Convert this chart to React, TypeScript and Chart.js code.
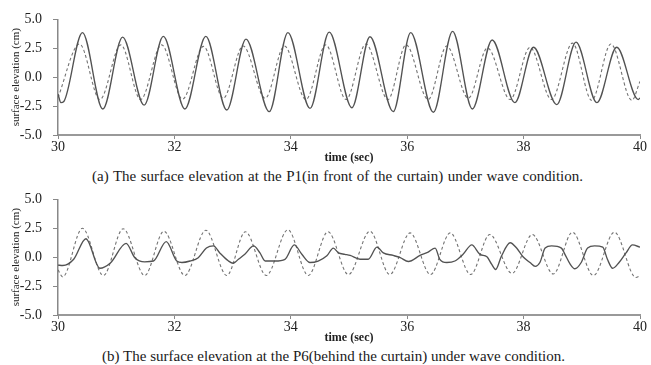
import React, { useEffect, useRef } from "react";
import { Chart, registerables } from "chart.js";

Chart.register(...registerables);

const FONT = "'Liberation Serif', 'Times New Roman', serif";

const xTickValues = [30, 32, 34, 36, 38, 40];
const yTickValues = [-5, -2.5, 0, 2.5, 5];

// (a) P1, in front of the curtain — measured (solid)
const p1SolidTime = [
  30.0, 30.05, 30.1, 30.42, 30.77, 31.11, 31.48, 31.81, 32.18, 32.54, 32.9, 33.23,
  33.63, 33.95, 34.33, 34.66, 35.05, 35.36, 35.76, 36.06, 36.45, 36.78, 37.12,
  37.46, 37.85, 38.17, 38.57, 38.9, 39.26, 39.6, 39.97, 40.0,
];
const p1SolidValue = [
  -1.45, -2.2, -2.1, 3.86, -2.75, 3.47, -2.42, 3.53, -2.75, 3.53, -2.84, 3.3,
  -2.98, 3.86, -2.7, 3.9, -2.64, 3.5, -2.98, 3.86, -3.03, 3.97, -2.75,
  3.22, -2.2, 2.59, -2.37, 3.03, -2.2, 2.59, -1.93, -1.8,
];

// (a) P1 — incident wave (dashed)
const p1DashedTime = [
  30.0, 30.37, 30.72, 31.08, 31.42, 31.78, 32.14, 32.5, 32.84, 33.18, 33.56, 33.89,
  34.26, 34.6, 34.95, 35.29, 35.67, 35.98, 36.36, 36.68, 37.05, 37.38, 37.77,
  38.11, 38.48, 38.84, 39.17, 39.5, 39.86, 40.0,
];
const p1DashedValue = [
  -1.75, 2.87, -1.93, 2.8, -1.93, 2.8, -1.9, 2.67, -1.82, 2.7, -1.82, 2.7,
  -1.93, 2.8, -1.93, 2.87, -1.93, 2.8, -1.93, 2.7, -1.82, 2.53, -1.93,
  2.59, -1.93, 2.95, -2.0, 2.87, -2.0, -0.36,
];

// (b) P6, behind the curtain — measured (solid)
const p6SolidTime = [
  30.0, 30.08, 30.27, 30.48, 30.72, 30.9, 31.17, 31.32, 31.49, 31.64, 31.86, 32.04,
  32.13, 32.27, 32.41, 32.55, 32.67, 32.78, 32.93, 33.01, 33.1, 33.21, 33.36,
  33.47, 33.56, 33.73, 33.9, 34.06, 34.19, 34.33, 34.47, 34.62, 34.73, 34.82,
  34.93, 35.02, 35.19, 35.33, 35.48, 35.59, 35.76, 35.88, 36.02, 36.22, 36.36,
  36.48, 36.56, 36.68, 36.82, 36.96, 37.11, 37.25, 37.37, 37.45, 37.52, 37.62,
  37.77, 37.88, 37.99, 38.11, 38.2, 38.28, 38.37, 38.48, 38.65, 38.71, 38.8,
  38.88, 38.99, 39.1, 39.22, 39.36, 39.44, 39.53, 39.64, 39.76, 39.87, 40.0,
];
const p6SolidValue = [
  -0.68, -0.72, -0.18, 1.6, -0.96, -0.5, 1.2, -0.04, -0.4, -0.33, 1.35, -0.33,
  -0.46, -0.33, -0.04, 0.79, 0.98, 0.37, -0.33, -0.52, -0.18, 0.25, 0.98,
  0.37, -0.33, -0.33, -0.18, 1.06, 0.25, -0.46, -0.33, 0.12, 0.79, 0.37,
  0.25, 0.15, -0.18, -0.18, 0.87, 0.37, 0.15, -0.04, -0.37, 0.15, 0.44,
  0.79, -0.18, -0.46, -0.33, 0.25, 1.06, 0.25, 0.04, -0.6, -1.06, 0.1,
  1.25, 0.79, 0.04, -0.46, -0.79, -0.46, 0.79, 0.98, 0.79, 0.25, -0.6,
  -1.0, -0.46, 0.79, 0.98, 0.87, -0.18, -0.96, -0.46, 0.37, 1.06, 0.87,
];

// (b) P6 — incident wave (dashed)
const p6DashedTime = [
  30.0, 30.08, 30.42, 30.78, 31.12, 31.49, 31.82, 32.18, 32.54, 32.9, 33.22, 33.58,
  33.95, 34.3, 34.64, 34.99, 35.36, 35.7, 36.05, 36.4, 36.74, 37.09, 37.42,
  37.8, 38.15, 38.51, 38.84, 39.2, 39.56, 39.93, 40.0,
];
const p6DashedValue = [
  -1.1, -1.7, 2.5, -1.58, 2.46, -1.58, 2.25, -1.58, 2.33, -1.58, 2.2, -1.58,
  2.37, -1.58, 2.2, -1.5, 2.25, -1.5, 2.1, -1.5, 2.1, -1.5, 1.96,
  -1.4, 1.96, -1.45, 2.16, -1.58, 2.16, -1.75, -1.6,
];

const captionA =
  "(a) The surface elevation at the P1(in front of the curtain) under wave condition.";
const captionB =
  "(b) The surface elevation at the P6(behind the curtain) under wave condition.";

const toPoints = (t: number[], v: number[]) => t.map((x, i) => ({ x, y: v[i] }));

type PanelProps = {
  top: number;
  height: number;
  padTop: number;
  solidT: number[];
  solidV: number[];
  dashedT: number[];
  dashedV: number[];
};

function Panel({ top, height, padTop, solidT, solidV, dashedT, dashedV }: PanelProps) {
  const ref = useRef<HTMLCanvasElement | null>(null);
  useEffect(() => {
    if (!ref.current) return;
    const chart = new Chart(ref.current, {
      type: "line",
      data: {
        datasets: [
          {
            data: toPoints(solidT, solidV),
            borderColor: "#525252",
            borderWidth: 1.35,
            pointRadius: 0,
            fill: false,
            cubicInterpolationMode: "monotone",
          },
          {
            data: toPoints(dashedT, dashedV),
            borderColor: "#727272",
            borderWidth: 1.1,
            borderDash: [3, 2.5],
            pointRadius: 0,
            fill: false,
            cubicInterpolationMode: "monotone",
          },
        ],
      },
      options: {
        animation: false,
        responsive: false,
        parsing: false as any,
        layout: { padding: { top: padTop, right: 11, left: 0, bottom: 0 } },
        plugins: { legend: { display: false }, tooltip: { enabled: false } },
        scales: {
          x: {
            type: "linear",
            min: 30,
            max: 40,
            afterBuildTicks: (s: any) => {
              s.ticks = xTickValues.map((v) => ({ value: v }));
            },
            afterFit: (s: any) => {
              s.height = 31;
            },
            grid: {
              drawOnChartArea: false,
              drawTicks: true,
              tickLength: 4,
              color: "#888",
              lineWidth: 1,
            },
            border: { color: "#999", width: 2 },
            ticks: {
              padding: 0,
              maxRotation: 0,
              color: "#222",
              font: { family: FONT, size: 14 },
              callback: (v: any) => String(v),
            },
            title: {
              display: true,
              text: "time (sec)",
              color: "#222",
              font: { family: FONT, size: 12, weight: "bold" },
              padding: { top: 0, bottom: 0.5 },
            },
          },
          y: {
            type: "linear",
            min: -5,
            max: 5,
            afterBuildTicks: (s: any) => {
              s.ticks = yTickValues.map((v) => ({ value: v }));
            },
            afterFit: (s: any) => {
              s.width = 58;
            },
            grid: {
              drawOnChartArea: false,
              drawTicks: true,
              tickLength: 5,
              color: "#888",
              lineWidth: 1,
            },
            border: { color: "#888", width: 1.5 },
            ticks: {
              padding: 11,
              color: "#222",
              font: { family: FONT, size: 14 },
              callback: (v: any) => Number(v).toFixed(1),
            },
            title: {
              display: true,
              text: "surface elevation (cm)",
              color: "#222",
              font: { family: FONT, size: 11 },
              padding: { top: 10, bottom: 0 },
            },
          },
        },
      } as any,
    });
    return () => chart.destroy();
  }, []);
  return (
    <canvas
      ref={ref}
      width={651}
      height={height}
      style={{ position: "absolute", left: 0, top, width: 651, height }}
    />
  );
}

function Caption({ top, left, width, text }: { top: number; left: number; width: number; text: string }) {
  return (
    <div
      style={{
        position: "absolute",
        top,
        left,
        width,
        fontFamily: FONT,
        fontSize: 15,
        lineHeight: "17px",
        color: "#1a1a1a",
        textAlign: "justify",
        textAlignLast: "justify" as any,
      }}
    >
      {text}
    </div>
  );
}

export default function App() {
  return (
    <div
      style={{
        position: "absolute",
        left: 0,
        top: 0,
        width: 651,
        height: 365,
        background: "#fff",
        overflow: "hidden",
      }}
    >
      <Panel
        top={0}
        height={166}
        padTop={14}
        solidT={p1SolidTime}
        solidV={p1SolidValue}
        dashedT={p1DashedTime}
        dashedV={p1DashedValue}
      />
      <Caption top={168} left={92} width={491} text={captionA} />
      <Panel
        top={180}
        height={166}
        padTop={15}
        solidT={p6SolidTime}
        solidV={p6SolidValue}
        dashedT={p6DashedTime}
        dashedV={p6DashedValue}
      />
      <Caption top={348} left={102} width={463} text={captionB} />
    </div>
  );
}
